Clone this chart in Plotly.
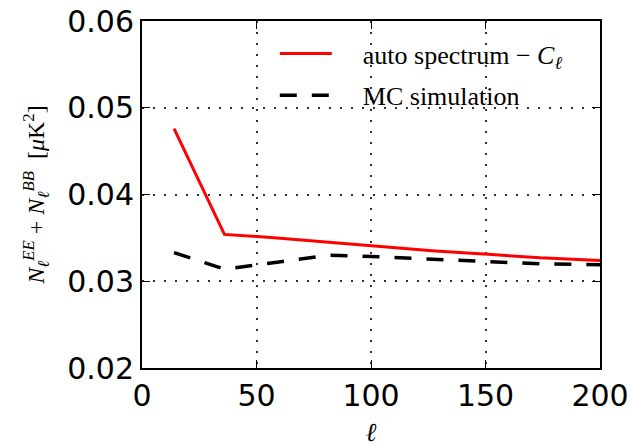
import plotly.graph_objects as go

ell = [14, 36, 59, 82, 105, 128, 151, 174, 200]
auto_spectrum = [0.0476, 0.0354, 0.0350, 0.0345, 0.0340, 0.0335, 0.0331, 0.0327, 0.0324]
mc_simulation = [0.0333, 0.0314, 0.0322, 0.0330, 0.0328, 0.0325, 0.0322, 0.0320, 0.0319]

x_ticks = [0, 50, 100, 150, 200]
y_ticks = [0.02, 0.03, 0.04, 0.05, 0.06]

pad = "\u2002\u2002"

fig = go.Figure()
fig.add_trace(go.Scatter(
    x=ell, y=auto_spectrum, mode="lines",
    name=pad + "auto spectrum − <i>C</i><sub><i>ℓ</i></sub>",
    legendgroup="auto",
    line=dict(color="#ff0000", width=3),
))
fig.add_trace(go.Scatter(
    x=ell, y=mc_simulation, mode="lines",
    name=pad + "MC simulation",
    legendgroup="mc",
    line=dict(color="#000000", width=3.5, dash="17px,15px"),
))

axis_common = dict(
    showline=True, linecolor="black", linewidth=2, mirror="ticks",
    ticks="inside", ticklen=8, tickwidth=1, tickcolor="black",
    showgrid=True, gridcolor="#333333", gridwidth=1.5, griddash="2px,9px",
    zeroline=False,
    tickfont=dict(family="DejaVu Sans", size=30, color="black"),
)

fig.update_xaxes(
    range=[0, 200], tickvals=x_ticks, ticktext=[str(v) for v in x_ticks],
    title=dict(text="<i>ℓ</i>", font=dict(family="Liberation Serif", size=26, color="black"), standoff=24),
    **axis_common,
)
fig.update_yaxes(
    range=[0.02, 0.06], tickvals=y_ticks, ticktext=[f"{v:.2f}" for v in y_ticks],
    title=dict(
        text="<i>N</i><sub><i>ℓ</i></sub><sup><i>EE</i></sup> + <i>N</i><sub><i>ℓ</i></sub><sup><i>BB</i></sup>  [<i>μ</i>K<sup>2</sup>]",
        font=dict(family="Liberation Serif", size=24, color="black"), standoff=16),
    **axis_common,
)

fig.update_layout(
    width=632, height=447,
    margin=dict(l=142, r=32, t=21, b=79, autoexpand=False),
    paper_bgcolor="white", plot_bgcolor="white",
    showlegend=True,
    legend=dict(
        x=0.29, y=0.974, xanchor="left", yanchor="top",
        bgcolor="rgba(0,0,0,0)", borderwidth=0,
        font=dict(family="Liberation Serif", size=26, color="black"),
        itemwidth=52, traceorder="grouped", tracegroupgap=5,
    ),
)

fig.write_html("out.html")
